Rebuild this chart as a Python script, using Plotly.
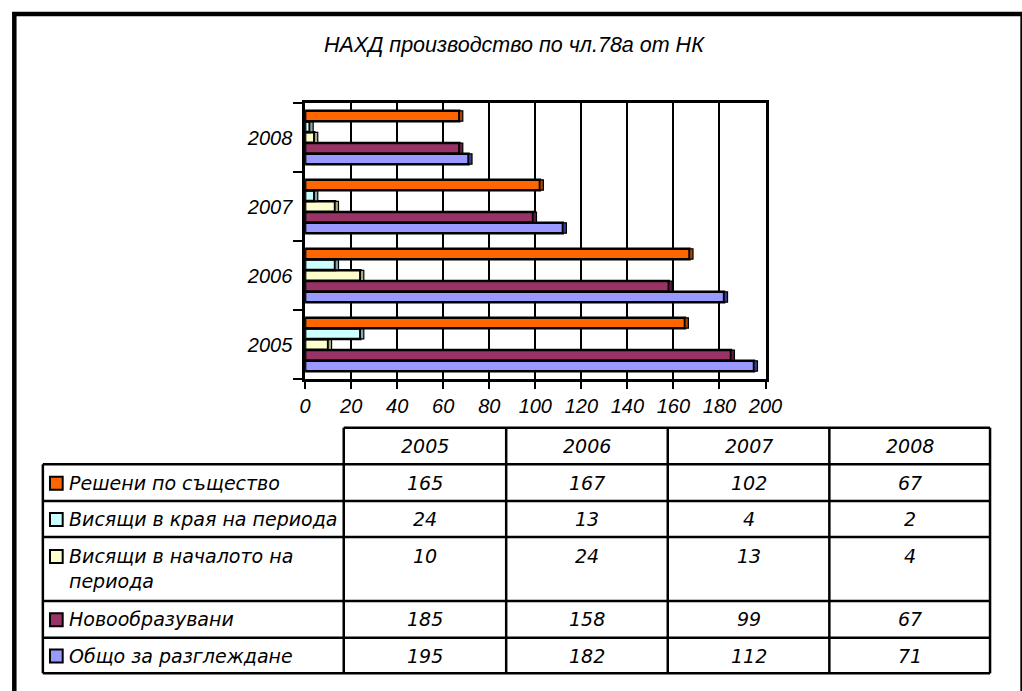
import plotly.graph_objects as go

# ---- data -------------------------------------------------------------
years = ["2005", "2006", "2007", "2008"]

series_names = [
    "Решени по същество",
    "Висящи в края на периода",
    "Висящи в началото на периода",
    "Новообразувани",
    "Общо за разглеждане",
]
resheni = [165, 167, 102, 67]
visyashti_kraya = [24, 13, 4, 2]
visyashti_nachalo = [10, 24, 13, 4]
novoobrazuvani = [185, 158, 99, 67]
obshto = [195, 182, 112, 71]

series_values = [resheni, visyashti_kraya, visyashti_nachalo, novoobrazuvani, obshto]
series_colors = ["#FF6600", "#CCFFFF", "#FFFFCC", "#993366", "#9999FF"]
side_colors = ["#A84300", "#86A8A8", "#A8A886", "#5E1F3F", "#3B3B99"]
table_labels = [
    "Решени по същество",
    "Висящи в края на периода",
    "Висящи в началото на<br>периода",
    "Новообразувани",
    "Общо за разглеждане",
]
x_ticks = list(range(0, 201, 20))

# ---- geometry helpers (pixel -> paper) --------------------------------
W, H = 1022, 691


def px(x):
    return x / W


def py(y):
    return 1 - y / H


FONT = "Liberation Sans, Arial, sans-serif"
WIDE = "DejaVu Sans, Liberation Sans, sans-serif"

fig = go.Figure()

# bars: first trace sits at the bottom of each group, so add in reverse
for i in reversed(range(len(series_names))):
    vals = series_values[i]
    fig.add_trace(
        go.Bar(
            y=years,
            x=vals,
            orientation="h",
            name=series_names[i],
            offsetgroup=str(i),
            marker=dict(color=series_colors[i], line=dict(color="black", width=2.5)),
            showlegend=False,
        )
    )
    # thin darker strip at the bar end for the 3D look
    fig.add_trace(
        go.Bar(
            y=years,
            x=[1.5] * len(vals),
            base=vals,
            orientation="h",
            offsetgroup=str(i),
            marker=dict(color=side_colors[i], line=dict(color="black", width=1.2)),
            hoverinfo="skip",
            showlegend=False,
        )
    )

shapes = []
annotations = []

# outer chart frame (runs off right/bottom edge)
shapes.append(
    dict(
        type="rect", xref="paper", yref="paper",
        x0=px(8.5), x1=px(1040), y0=py(14), y1=py(710),
        line=dict(color="black", width=4.5), fillcolor="rgba(0,0,0,0)",
        layer="above",
    )
)

# title
annotations.append(
    dict(
        text="НАХД производство по чл.78а от НК",
        x=px(520), y=py(45), xref="paper", yref="paper",
        showarrow=False, xanchor="center", yanchor="middle",
        font=dict(family=FONT, size=21.5, color="black", style="italic"),
    )
)

# ---- data table ------------------------------------------------------
col_x = [37.7, 345.5, 511.7, 677.0, 842.3, 1006.7]
row_y = [427.7, 464.3, 501.0, 537.0, 601.0, 637.7, 673.3]
lw = 2.5

for k, y in enumerate(row_y):
    x0 = col_x[1] if k == 0 else col_x[0]
    shapes.append(dict(type="line", xref="paper", yref="paper",
                       x0=px(x0), x1=px(col_x[-1]), y0=py(y), y1=py(y),
                       line=dict(color="black", width=lw)))
for k, x in enumerate(col_x):
    y0 = row_y[1] if k == 0 else row_y[0]
    shapes.append(dict(type="line", xref="paper", yref="paper",
                       x0=px(x), x1=px(x), y0=py(y0), y1=py(row_y[-1]),
                       line=dict(color="black", width=lw)))

cell_font = dict(family=WIDE, size=19, color="black", style="italic")

# header years
for j, yr in enumerate(years):
    cx = (col_x[j + 1] + col_x[j + 2]) / 2
    annotations.append(dict(text=yr, x=px(cx), y=py((row_y[0] + row_y[1]) / 2),
                            xref="paper", yref="paper", showarrow=False,
                            xanchor="center", yanchor="middle", font=cell_font))

for r in range(len(series_names)):
    top, bot = row_y[r + 1], row_y[r + 2]
    tall = (bot - top) > 50
    cy = top + 19 if tall else (top + bot) / 2
    # legend key
    shapes.append(dict(type="rect", xref="paper", yref="paper",
                       x0=px(45), x1=px(58), y0=py(cy - 6), y1=py(cy + 7),
                       fillcolor=series_colors[r], line=dict(color="black", width=2)))
    annotations.append(dict(text=table_labels[r], x=px(62), y=py(cy - 13),
                            xref="paper", yref="paper", showarrow=False,
                            xanchor="left", yanchor="top", align="left",
                            font=cell_font))
    for j, v in enumerate(series_values[r]):
        cx = (col_x[j + 1] + col_x[j + 2]) / 2
        annotations.append(dict(text=str(v), x=px(cx), y=py(cy),
                                xref="paper", yref="paper", showarrow=False,
                                xanchor="center", yanchor="middle", font=cell_font))

tick_font = dict(family=FONT, size=20, color="black", style="italic")

fig.update_layout(
    width=W,
    height=H,
    autosize=False,
    margin=dict(l=0, r=0, t=0, b=0),
    paper_bgcolor="white",
    plot_bgcolor="white",
    barmode="group",
    bargap=0.22,
    bargroupgap=0.04,
    xaxis=dict(
        domain=[px(306), px(777)],
        range=[0, 200],
        tickvals=x_ticks,
        ticktext=[str(t) for t in x_ticks],
        showgrid=True, gridcolor="black", gridwidth=2,
        showline=True, linecolor="black", linewidth=2.5, mirror=True,
        ticks="outside", ticklen=7, tickwidth=2, tickcolor="black",
        zeroline=False,
        tickfont=tick_font,
    ),
    yaxis=dict(
        domain=[py(379), py(103)],
        type="category",
        categoryorder="array",
        categoryarray=years,
        showgrid=False,
        showline=True, linecolor="black", linewidth=2.5, mirror=True,
        ticks="outside", tickson="boundaries", ticklen=9, tickwidth=2,
        tickcolor="black",
        ticklabelstandoff=6,
        tickfont=tick_font,
    ),
    shapes=shapes,
    annotations=annotations,
)

fig.write_html(
    "out.html",
    post_script="document.body.style.margin='0';",
    config={"displayModeBar": False},
)
